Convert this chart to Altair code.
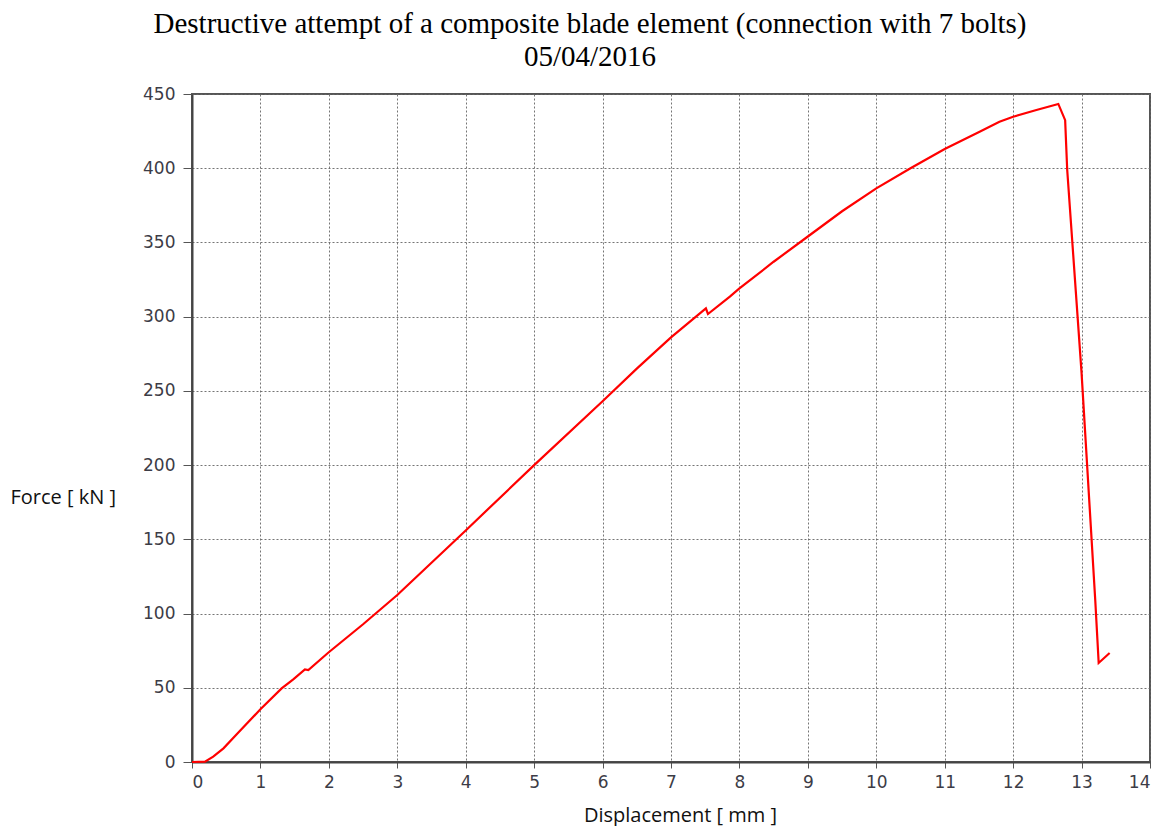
import altair as alt
import pandas as pd

# Displacement [mm] and Force [kN]
disp = [0, 0.19, 0.31, 0.46, 0.65, 1.0, 1.31, 1.48, 1.65, 1.70, 1.99, 2.5, 3.0,
        4.0, 5.0, 6.0, 6.5, 7.0, 7.51, 7.54, 7.86, 8.0, 8.5, 9.0, 9.5, 10.0,
        10.5, 11.0, 11.51, 11.8, 12.0, 12.34, 12.66, 12.76, 12.79, 13.0, 13.2,
        13.25, 13.41]
force = [0, 0.2, 3.6, 9.2, 18.5, 35.5, 49.6, 55.7, 62.4, 62.0, 73.6, 92.8, 112.5,
         156, 200, 243, 265, 286, 305.6, 301.8, 313.5, 319, 337, 354, 371, 386.4,
         400, 413, 424.6, 431.3, 434.7, 439.2, 443.3, 432.4, 399, 262, 109,
         66.7, 73.4]

x_ticks = list(range(0, 15))
y_ticks = list(range(0, 451, 50))

title_lines = ["Destructive attempt of a composite blade element (connection with 7 bolts)",
               "05/04/2016"]

df = pd.DataFrame({"disp": disp, "force": force, "idx": list(range(len(disp)))})

chart = alt.Chart(df).mark_line(color="#ff0000", strokeWidth=2.2).encode(
    x=alt.X("disp:Q", scale=alt.Scale(domain=[0, 14], nice=False, zero=True),
            axis=alt.Axis(values=x_ticks, title="Displacement [ mm ]", format="d",
                          titleX=488, titleY=53, titleBaseline="middle",
                          titleAlign="center", tickSize=6, labelPadding=6)),
    y=alt.Y("force:Q", scale=alt.Scale(domain=[0, 450], nice=False),
            axis=alt.Axis(values=y_ticks, title="Force [ kN ]", format="d",
                          titleAngle=0, titleAlign="left", titleBaseline="middle",
                          titleX=-182, titleY=403, tickSize=9, labelPadding=8)),
    order="idx:Q",
).properties(
    width=958,
    height=668,
    autosize=alt.AutoSizeParams(type="none"),
    padding={"left": 184, "top": 86, "right": 11, "bottom": 64},
    background="white",
    title=alt.TitleParams(text=title_lines, font="Liberation Serif", fontSize=29,
                          fontWeight="normal", color="#000000", anchor="middle",
                          frame="group", dx=-81, offset=13, lineHeight=33),
).configure_view(
    stroke="#555555", strokeWidth=2
).configure_axis(
    domainColor="#444444", domainWidth=2,
    tickColor="#555555", tickWidth=1,
    grid=True, gridColor="#666666", gridDash=[2, 2], gridWidth=1, gridOpacity=0.9,
    labelFont="DejaVu Sans", labelFontSize=17, labelColor="#3c3c46",
    titleFont="Open Sans", titleFontSize=20, titleFontWeight="normal", titleColor="#111111",
)

chart.save("out.html", embed_options={"renderer": "svg", "actions": False})
